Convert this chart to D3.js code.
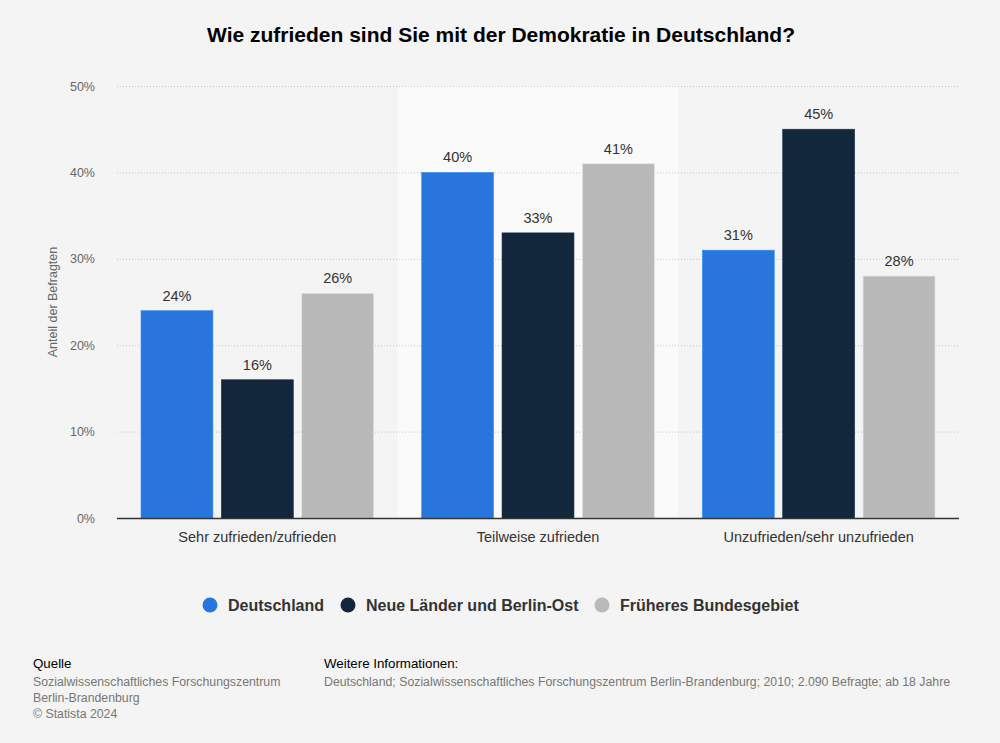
<!DOCTYPE html>
<html><head><meta charset="utf-8">
<script src="https://cdn.jsdelivr.net/npm/d3@7"></script>
<style>body{margin:0;background:#f4f4f4;font-family:"Liberation Sans",Arial,sans-serif}</style>
</head><body>
<svg id="c" width="1000" height="743"></svg>
<script>
const categories = ["Sehr zufrieden/zufrieden", "Teilweise zufrieden", "Unzufrieden/sehr unzufrieden"];
const seriesNames = ["Deutschland", "Neue Länder und Berlin-Ost", "Früheres Bundesgebiet"];
const deutschland = [24, 40, 31];
const neueLaender = [16, 33, 45];
const fruehere = [26, 41, 28];
const yTicks = [0, 10, 20, 30, 40, 50];
const colors = ["#2876dd", "#12263c", "#b9b9b9"];
const seriesValues = [deutschland, neueLaender, fruehere];

const FF = "Liberation Sans, Arial, sans-serif";
const svg = d3.select("#c").attr("font-family", FF);
svg.append("rect").attr("width",1000).attr("height",743).attr("fill","#f4f4f4");
const L=117,R=959,T=86,B=518;
const x0 = d3.scaleBand().domain(categories).range([L,R]).padding(0);
const x1 = d3.scaleBand().domain(seriesNames).range([24, x0.bandwidth()-24]).paddingInner(0.105).paddingOuter(0);
const y = d3.scaleLinear().domain([0,50]).range([B,T]);

// shaded middle band
svg.append("rect").attr("x",x0(categories[1])).attr("y",T).attr("width",x0.bandwidth()).attr("height",B-T).attr("fill","#fafafa");

svg.append("text").attr("x",501).attr("y",42).attr("text-anchor","middle")
  .attr("font-size",21).attr("font-weight","bold").attr("fill","#000")
  .text("Wie zufrieden sind Sie mit der Demokratie in Deutschland?");

// grid
svg.append("g").selectAll("line").data(yTicks.filter(d=>d>0)).join("line")
  .attr("x1",L).attr("x2",R).attr("y1",d=>y(d)+0.5).attr("y2",d=>y(d)+0.5)
  .attr("stroke","#c8c8c8").attr("stroke-dasharray","1,2");

// y axis labels
const ya = svg.append("g").attr("transform",`translate(${L-22},0)`)
  .call(d3.axisLeft(y).tickValues(yTicks).tickFormat(d=>d+"%").tickSize(0).tickPadding(0));
ya.select(".domain").remove();
ya.attr("font-family", FF);
ya.selectAll("text").attr("font-size",12.5).attr("fill","#666");

svg.append("text").attr("transform",`translate(57,${(T+B)/2}) rotate(-90)`)
  .attr("text-anchor","middle").attr("font-size",12.5).attr("fill","#666").text("Anteil der Befragten");

// bars
const groups = svg.append("g").selectAll("g").data(categories).join("g")
  .attr("transform",d=>`translate(${x0(d)},0)`);
groups.each(function(cat,ci){
  const g=d3.select(this);
  const data = seriesNames.map((s,si)=>({s,si,v:seriesValues[si][ci]}));
  g.selectAll("rect").data(data).join("rect")
    .attr("x",d=>x1(d.s)).attr("width",x1.bandwidth())
    .attr("y",d=>y(d.v)).attr("height",d=>B-y(d.v))
    .attr("fill",d=>colors[d.si]).attr("stroke",d=>d3.color(colors[d.si]).brighter(0.6)).attr("stroke-width",0.6);
  g.selectAll("text").data(data).join("text")
    .attr("x",d=>x1(d.s)+x1.bandwidth()/2).attr("y",d=>y(d.v)-10)
    .attr("text-anchor","middle").attr("font-size",14.5).attr("fill","#333").text(d=>d.v+"%");
});

// baseline
svg.append("line").attr("x1",L).attr("x2",R).attr("y1",B+0.5).attr("y2",B+0.5).attr("stroke","#333").attr("stroke-width",1.3);

// x axis labels
const xa = svg.append("g").attr("transform",`translate(0,${B})`)
  .call(d3.axisBottom(x0).tickSize(0).tickPadding(14));
xa.select(".domain").remove();
xa.attr("font-family", FF);
xa.selectAll("text").attr("font-size",14.5).attr("fill","#333");

// legend
const legX = [210, 348, 602];
const leg = svg.append("g").selectAll("g").data(seriesNames).join("g")
  .attr("transform",(d,i)=>`translate(${legX[i]},605)`);
leg.append("circle").attr("r",7.5).attr("fill",(d,i)=>colors[i]);
leg.append("text").attr("x",18).attr("y",6).attr("font-size",16).attr("font-weight","bold").attr("fill","#333").text(d=>d);

// footer
const f = svg.append("g");
f.append("text").attr("x",33).attr("y",668).attr("fill","#000").attr("font-size",13.3).text("Quelle");
["Sozialwissenschaftliches Forschungszentrum","Berlin-Brandenburg","© Statista 2024"].forEach((t,i)=>
  f.append("text").attr("x",33).attr("y",686+i*16).attr("fill","#777").attr("font-size",12.3).text(t));
f.append("text").attr("x",324).attr("y",668).attr("fill","#000").attr("font-size",13.3).text("Weitere Informationen:");
f.append("text").attr("x",324).attr("y",686).attr("fill","#777").attr("font-size",12.3)
  .text("Deutschland; Sozialwissenschaftliches Forschungszentrum Berlin-Brandenburg; 2010; 2.090 Befragte; ab 18 Jahre");
</script>
</body></html>
